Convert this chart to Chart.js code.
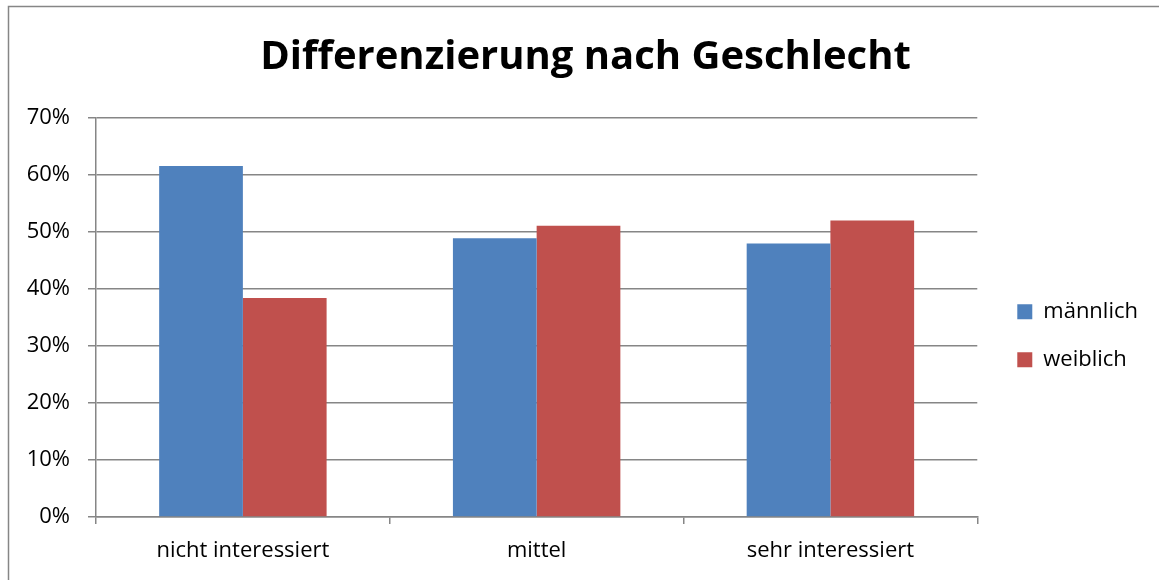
<!DOCTYPE html>
<html>
<head>
<meta charset="utf-8">
<script src="https://cdn.jsdelivr.net/npm/chart.js@4"></script>
<style>
  html, body { margin: 0; padding: 0; background: #fff; }
  #wrap { width: 1159px; height: 580px; }
</style>
</head>
<body>
<div id="wrap"><canvas id="genderChart" width="1159" height="580"></canvas></div>
<script>
const categories = ['nicht interessiert', 'mittel', 'sehr interessiert'];
const maleValues = [61.6, 48.9, 48.0];
const femaleValues = [38.4, 51.1, 52.0];
const yTicks = [0, 10, 20, 30, 40, 50, 60, 70];

const gridGray = '#868686';
const fontFamily = '"Open Sans", Lato, sans-serif';

// white background plus the frame line on the left and top
const framePlugin = {
    id: 'frame',
    beforeDraw(chart) {
        const c = chart.ctx;
        c.save();
        c.fillStyle = '#fff';
        c.fillRect(0, 0, chart.width, chart.height);
        c.strokeStyle = gridGray;
        c.lineWidth = 1.5;
        c.beginPath();
        c.moveTo(8.5, chart.height);
        c.lineTo(8.5, 6.5);
        c.lineTo(chart.width, 6.5);
        c.stroke();
        c.restore();
    }
};

const ctx = document.getElementById('genderChart');
new Chart(ctx, {
    type: 'bar',
    data: {
        labels: categories,
        datasets: [{
            label: 'männlich',
            data: maleValues,
            backgroundColor: '#4F81BD',
            borderWidth: 0
        }, {
            label: 'weiblich',
            data: femaleValues,
            backgroundColor: '#C0504D',
            borderWidth: 0
        }]
    },
    options: {
        responsive: false,
        animation: false,
        layout: { padding: { left: 23, right: 11, top: 0, bottom: 0 } },
        datasets: {
            bar: { categoryPercentage: 0.57, barPercentage: 1.0 }
        },
        plugins: {
            title: {
                display: true,
                text: 'Differenzierung nach Geschlecht',
                color: '#000',
                font: { family: fontFamily, size: 40, weight: 'bold' },
                padding: { top: 34, bottom: 36 }
            },
            legend: {
                position: 'right',
                fullSize: false,
                title: { display: true, text: ' ', padding: 11, font: { size: 12 } },
                labels: {
                    boxWidth: 15,
                    boxHeight: 15,
                    padding: 26,
                    color: '#000',
                    font: { family: fontFamily, size: 22 }
                }
            },
            tooltip: { enabled: false }
        },
        scales: {
            x: {
                grid: {
                    offset: true,
                    drawOnChartArea: false,
                    drawTicks: true,
                    tickLength: 7,
                    color: gridGray,
                    lineWidth: 1.5
                },
                border: { color: gridGray, width: 1.5 },
                ticks: {
                    color: '#000',
                    padding: 14,
                    font: { family: fontFamily, size: 22 }
                },
                afterFit(scale) { scale.height = 63; }
            },
            y: {
                min: 0,
                max: 70,
                afterBuildTicks(scale) {
                    scale.ticks = yTicks.map(v => ({ value: v }));
                },
                grid: {
                    color: gridGray,
                    lineWidth: 1.5,
                    tickLength: 8
                },
                border: { color: gridGray, width: 1.5 },
                ticks: {
                    color: '#000',
                    padding: 18,
                    font: { family: fontFamily, size: 22 },
                    callback: v => v + '%'
                },
                afterFit(scale) { scale.width = 73; }
            },
            // empty spacer between plot and legend
            gap: {
                type: 'linear',
                position: 'right',
                display: true,
                grid: { display: false },
                border: { display: false },
                ticks: { display: false },
                afterFit(scale) { scale.width = 14; }
            }
        }
    },
    plugins: [framePlugin]
});
</script>
</body>
</html>
